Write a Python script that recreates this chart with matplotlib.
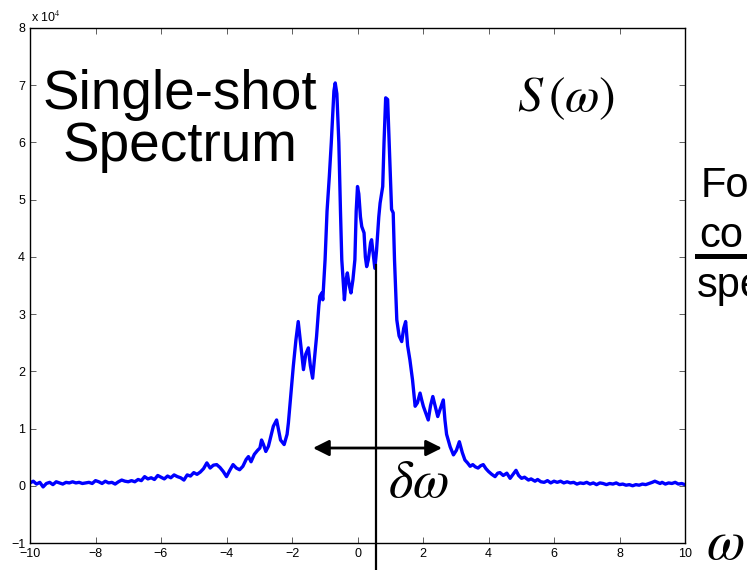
import matplotlib
matplotlib.use("Agg")
import matplotlib.pyplot as plt

plt.rcParams['font.family'] = ['Liberation Sans', 'DejaVu Sans']
plt.rcParams['mathtext.fontset'] = 'stix'

# frequency axis (omega) and single-shot spectrum S (in units of 1e4)
omega = [-10.0, -9.9, -9.8, -9.7, -9.6, -9.5, -9.4, -9.3, -9.2, -9.1, -9.0, -8.9, -8.8, -8.7, -8.6,
         -8.5, -8.4, -8.3, -8.2, -8.1, -8.0, -7.9, -7.8, -7.7, -7.6, -7.5, -7.4, -7.3, -7.2, -7.1,
         -7.0, -6.9, -6.8, -6.7, -6.6, -6.5, -6.4, -6.3, -6.2, -6.1, -6.0, -5.9, -5.8, -5.7, -5.6,
         -5.5, -5.4, -5.3, -5.2, -5.1, -5.0, -4.9, -4.8, -4.7, -4.6, -4.5, -4.4, -4.3, -4.2, -4.1,
         -4.0, -3.9, -3.8, -3.7, -3.6, -3.5, -3.4, -3.33, -3.25, -3.15, -3.05, -2.98, -2.93, -2.87,
         -2.8, -2.72, -2.65, -2.57, -2.47, -2.40, -2.35, -2.24, -2.15, -2.11, -2.05, -1.96, -1.88,
         -1.81, -1.73, -1.65, -1.58, -1.50, -1.44, -1.37, -1.30, -1.25, -1.18, -1.15, -1.09, -1.06,
         -0.99, -0.93, -0.86, -0.80, -0.72, -0.68, -0.63, -0.57, -0.52, -0.48, -0.40, -0.35, -0.31,
         -0.25, -0.20, -0.14, -0.08, -0.04, 0.0, 0.04, 0.09, 0.13, 0.20, 0.24, 0.28, 0.33, 0.40,
         0.43, 0.48, 0.53, 0.58, 0.65, 0.69, 0.77, 0.81, 0.86, 0.92, 0.98, 1.04, 1.09, 1.13, 1.20,
         1.27, 1.35, 1.41, 1.47, 1.53, 1.60, 1.68, 1.76, 1.83, 1.91, 1.96, 2.01, 2.08, 2.16, 2.23,
         2.30, 2.37, 2.45, 2.53, 2.62, 2.67, 2.72, 2.77, 2.83, 2.93, 3.02, 3.11, 3.2, 3.28, 3.36,
         3.44, 3.52, 3.60, 3.68, 3.76, 3.84, 3.92, 4.0, 4.1, 4.2, 4.28, 4.35, 4.45, 4.56, 4.66,
         4.75, 4.84, 4.92, 5.01, 5.1, 5.22, 5.3, 5.42, 5.5, 5.6, 5.7, 5.8, 5.9, 6.0, 6.1, 6.2, 6.3,
         6.4, 6.5, 6.6, 6.7, 6.8, 6.9, 7.0, 7.1, 7.2, 7.3, 7.4, 7.5, 7.6, 7.7, 7.8, 7.9, 8.0, 8.1,
         8.2, 8.3, 8.4, 8.5, 8.6, 8.7, 8.8, 8.9, 9.0, 9.08, 9.16, 9.24, 9.3, 9.4, 9.5, 9.6, 9.7,
         9.8, 9.9, 10.0]
S_1e4 = [0.05, 0.08, 0.03, 0.06, -0.02, 0.04, 0.06, 0.02, 0.07, 0.05, 0.03, 0.06, 0.05, 0.07, 0.05,
         0.06, 0.04, 0.05, 0.06, 0.04, 0.09, 0.07, 0.04, 0.08, 0.05, 0.06, 0.03, 0.07, 0.10, 0.08,
         0.07, 0.09, 0.07, 0.11, 0.09, 0.16, 0.12, 0.14, 0.11, 0.18, 0.15, 0.12, 0.17, 0.14, 0.19,
         0.16, 0.14, 0.10, 0.19, 0.17, 0.23, 0.20, 0.24, 0.30, 0.40, 0.31, 0.36, 0.37, 0.32, 0.25,
         0.16, 0.27, 0.37, 0.31, 0.28, 0.34, 0.46, 0.51, 0.42, 0.55, 0.62, 0.66, 0.80, 0.72,
         0.60, 0.69, 0.85, 1.04, 1.15, 0.95, 0.80, 0.72, 0.90, 1.10, 1.50, 2.09, 2.55,
         2.87, 2.45, 2.03, 2.30, 2.41, 2.10, 1.88, 2.30, 2.61, 3.15, 3.31, 3.37, 3.25,
         3.95, 4.8, 5.41, 6.0, 6.9, 7.04, 6.85, 6.0, 4.8, 3.95, 3.25, 3.6, 3.72,
         3.5, 3.37, 3.6, 3.95, 4.8, 5.23, 5.1, 4.7, 4.53, 4.42, 4.0, 3.83, 3.95, 4.25,
         4.30, 4.05, 3.80, 4.1, 4.7, 4.94, 5.23, 6.0, 6.78, 6.75, 5.8, 4.83, 4.77, 3.95, 2.90,
         2.62, 2.52, 2.75, 2.87, 2.45, 2.20, 1.85, 1.39, 1.45, 1.62, 1.50, 1.39, 1.28, 1.15, 1.40,
         1.56, 1.40, 1.21, 1.35, 1.50, 1.15, 0.90, 0.80, 0.68, 0.54, 0.62, 0.77, 0.58, 0.45, 0.40,
         0.34, 0.37, 0.33, 0.31, 0.35, 0.37, 0.30, 0.25, 0.20, 0.16, 0.22, 0.23, 0.18, 0.22, 0.13,
         0.20, 0.27, 0.18, 0.13, 0.15, 0.10, 0.12, 0.08, 0.11, 0.07, 0.06, 0.09, 0.05, 0.08, 0.06, 0.08, 0.05,
         0.07, 0.05, 0.06, 0.03, 0.05, 0.04, 0.06, 0.03, 0.05, 0.02, 0.05, 0.04, 0.02, 0.04, 0.03, 0.05, 0.02, 0.03,
         0.01, 0.02, 0.00, 0.02, 0.01, 0.03, 0.02, 0.04, 0.06, 0.08, 0.06, 0.04, 0.06, 0.03, 0.05, 0.04, 0.06,
         0.03, 0.04, 0.02]

x_ticks = [-10, -8, -6, -4, -2, 0, 2, 4, 6, 8, 10]
y_ticks = [-1, 0, 1, 2, 3, 4, 5, 6, 7, 8]

center_omega = 0.55
center_top = 3.86
width_left, width_right, width_level = -1.36, 2.58, 0.66

fig = plt.figure(figsize=(7.47, 5.70), dpi=100)
ax = fig.add_axes([30 / 747, 1 - 543 / 570, 655 / 747, 515 / 570])

ax.plot(omega, S_1e4, color='#0000ff', lw=2.4, solid_joinstyle='round')
ax.set_xlim(-10, 10)
ax.set_ylim(-1, 8)
ax.set_xticks(x_ticks)
ax.set_yticks(y_ticks)
ax.tick_params(direction='in', length=4, width=0.6, labelsize=9, top=True, right=True,
               color='#444444')
for sp in ax.spines.values():
    sp.set_linewidth(1.0)

# vertical centre line extending below the axes
ax.plot([center_omega, center_omega], [center_top, -1.62], color='k', lw=1.6, clip_on=False)

# width arrow
ax.annotate('', xy=(width_right, width_level), xytext=(width_left, width_level),
            arrowprops=dict(arrowstyle='<|-|>', lw=2.0, color='k', mutation_scale=24,
                            shrinkA=0, shrinkB=0))

fig.text(31 / 747, 1 - 17 / 570, r'x 10$^{4}$', fontsize=9, ha='left', va='center')

fig.text(180 / 747, 1 - 121 / 570, 'Single-shot\nSpectrum', fontsize=39.5, ha='center',
         va='center', linespacing=1.02)
fig.text(566 / 747, 1 - 99 / 570, r'$S\,(\omega)$', fontsize=36, ha='center', va='center')
fig.text(418 / 747, 1 - 483 / 570, r'$\delta\omega$', fontsize=38, ha='center', va='center')
fig.text(725 / 747, 1 - 545 / 570, r'$\omega$', fontsize=40, ha='center', va='center')

fig.text(701 / 747, 1 - 197 / 570, 'Fo', fontsize=30, ha='left', va='baseline')
fig.text(699 / 747, 1 - 247 / 570, 'co', fontsize=30, ha='left', va='baseline')
fig.text(697 / 747, 1 - 297 / 570, 'spe', fontsize=30, ha='left', va='baseline')
fig.add_artist(plt.Line2D([697 / 747, 1.0], [1 - 255.5 / 570, 1 - 255.5 / 570],
                          color='k', lw=3.6, transform=fig.transFigure))

fig.savefig('out.png', dpi=100)
